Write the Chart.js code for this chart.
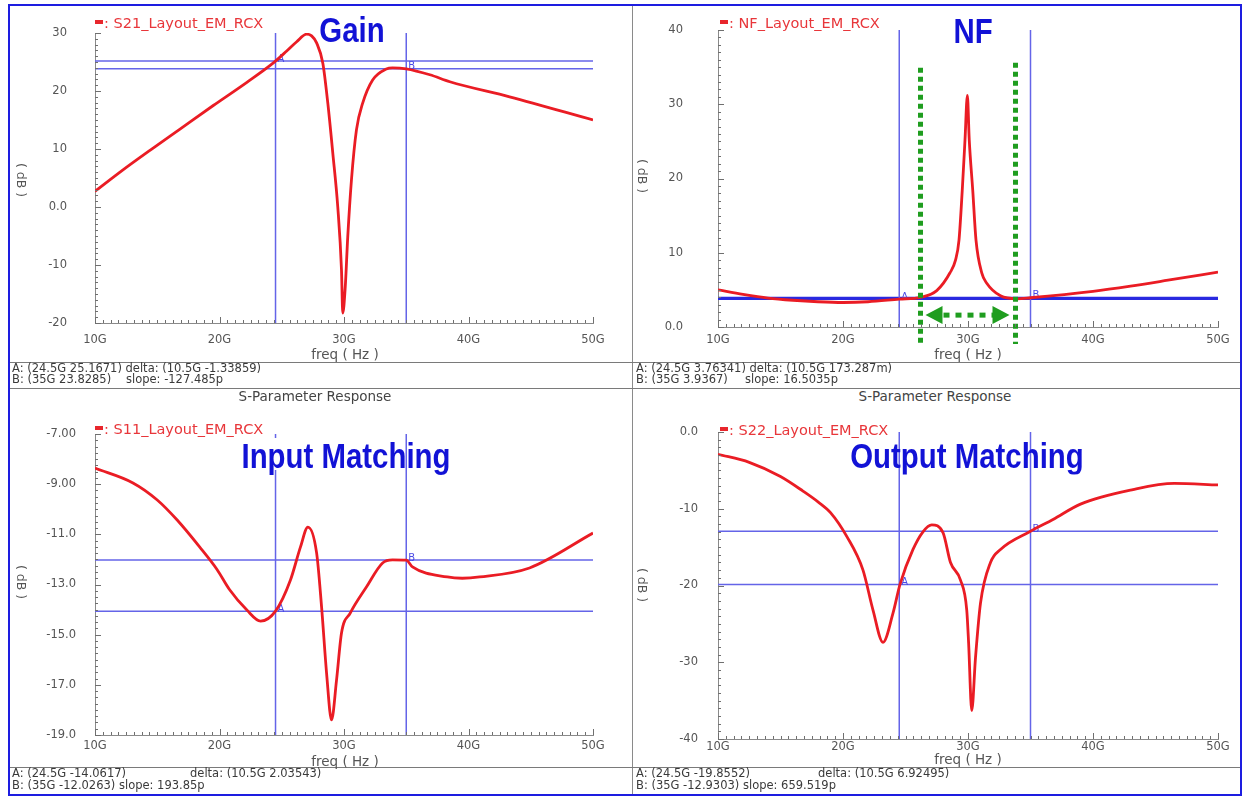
<!DOCTYPE html>
<html>
<head>
<meta charset="utf-8">
<title>S-Parameter Response</title>
<script src="https://cdn.jsdelivr.net/npm/chart.js@4.4.1/dist/chart.umd.min.js"></script>
<style>
  html, body { margin: 0; padding: 0; background: #fff; }
  body { width: 1244px; height: 797px; position: relative; overflow: hidden; font-family: "DejaVu Sans", sans-serif; }
  canvas { position: absolute; }
  .frame { position: absolute; left: 8px; top: 4px; width: 1230px; height: 788px; border: 2px solid #1d1de0; }
  .hline { position: absolute; height: 1px; background: #7a7a7a; }
  .vline { position: absolute; width: 1px; background: #8a8a8a; }
  .txt { position: absolute; white-space: pre; line-height: 1; }
  .info { font-size: 11.5px; color: #3a3a3a; }
  .xtitle { font-size: 13.5px; color: #555; transform: translate(-50%, -50%); }
  .ytitle { font-size: 12.5px; color: #555; transform: translate(-50%, -50%) rotate(90deg); }
  .legend { font-size: 14.5px; color: #e8363a; }
  .legend i { display: inline-block; width: 8px; height: 4px; background: #e8262c; vertical-align: middle; margin-right: 1px; position: relative; top: -2px; }
  .head { font-family: "Liberation Sans", sans-serif; font-weight: bold; font-size: 35px; color: #1212d6; transform: translate(-50%, -50%) scaleX(0.84); z-index: 3; }
  .panelTitle { font-size: 13.5px; color: #444; transform: translate(-50%, -50%); }
  .mask { position: absolute; background: #fff; z-index: 2; }
</style>
</head>
<body>
<div class="frame"></div>

<canvas id="gain" width="620" height="350" style="left:10px;top:8px"></canvas>
<canvas id="nf" width="604" height="350" style="left:634px;top:8px"></canvas>
<canvas id="s11" width="620" height="355" style="left:10px;top:410px"></canvas>
<canvas id="s22" width="604" height="355" style="left:634px;top:410px"></canvas>

<!-- panel separators -->
<div class="vline" style="left:632px;top:6px;height:788px"></div>
<div class="hline" style="left:10px;top:362px;width:1230px"></div>
<div class="hline" style="left:10px;top:388px;width:1230px"></div>
<div class="hline" style="left:10px;top:767px;width:1230px"></div>

<!-- legends -->
<div class="txt legend" style="left:95px;top:16px"><i></i>: S21_Layout_EM_RCX</div>
<div class="txt legend" style="left:720px;top:16px"><i></i>: NF_Layout_EM_RCX</div>
<div class="txt legend" style="left:95px;top:422px"><i></i>: S11_Layout_EM_RCX</div>
<div class="txt legend" style="left:720px;top:423px"><i></i>: S22_Layout_EM_RCX</div>

<!-- headings -->
<div class="mask" style="left:236px;top:438px;width:164px;height:32px"></div>
<div class="txt head" style="left:352px;top:29px">Gain</div>
<div class="txt head" style="left:973px;top:30px">NF</div>
<div class="txt head" style="left:346px;top:455px">Input Matching</div>
<div class="txt head" style="left:967px;top:455px">Output Matching</div>

<!-- axis titles -->
<div class="txt ytitle" style="left:21px;top:180px">( dB )</div>
<div class="txt ytitle" style="left:642px;top:176px">( dB )</div>
<div class="txt ytitle" style="left:21px;top:582px">( dB )</div>
<div class="txt ytitle" style="left:642px;top:585px">( dB )</div>
<div class="txt xtitle" style="left:345px;top:355px">freq ( Hz )</div>
<div class="txt xtitle" style="left:968px;top:355px">freq ( Hz )</div>
<div class="txt xtitle" style="left:345px;top:762px">freq ( Hz )</div>
<div class="txt xtitle" style="left:968px;top:760px">freq ( Hz )</div>

<!-- marker readouts -->
<div class="txt info" style="left:12px;top:363px">A: (24.5G 25.1671) delta: (10.5G -1.33859)</div>
<div class="txt info" style="left:12px;top:374px">B: (35G 23.8285)</div>
<div class="txt info" style="left:126px;top:374px">slope: -127.485p</div>
<div class="txt info" style="left:636px;top:363px">A: (24.5G 3.76341) delta: (10.5G 173.287m)</div>
<div class="txt info" style="left:636px;top:374px">B: (35G 3.9367)</div>
<div class="txt info" style="left:745px;top:374px">slope: 16.5035p</div>
<div class="txt info" style="left:12px;top:768px">A: (24.5G -14.0617)</div>
<div class="txt info" style="left:190px;top:768px">delta: (10.5G 2.03543)</div>
<div class="txt info" style="left:12px;top:780px">B: (35G -12.0263) slope: 193.85p</div>
<div class="txt info" style="left:636px;top:768px">A: (24.5G -19.8552)</div>
<div class="txt info" style="left:818px;top:768px">delta: (10.5G 6.92495)</div>
<div class="txt info" style="left:636px;top:780px">B: (35G -12.9303) slope: 659.519p</div>

<div class="txt panelTitle" style="left:315px;top:397px">S-Parameter Response</div>
<div class="txt panelTitle" style="left:935px;top:397px">S-Parameter Response</div>

<script>
// ---- frequency axis (GHz) ----
const freqTicks = [10, 20, 30, 40, 50];
const freqLabels = ['10G', '20G', '30G', '40G', '50G'];
const markerFreqs = [24.5, 35];            // markers A and B

// ---- S21 gain ----
const gainFreq = [10, 12.25, 14.5, 16.8, 19.5, 22.2, 24.3, 25.4, 26.2, 27.0, 27.4, 27.8, 28.3, 28.7, 29.1, 29.5, 29.8, 29.9, 30.1, 30.3, 30.6, 31.0, 31.5, 32.3, 33.4, 33.9, 35.0, 36.9, 38.5, 43.3, 50];
const gainDb   = [2.7, 6.4, 9.9, 13.4, 17.5, 21.5, 24.8, 26.9, 28.5, 29.8, 29.5, 28.3, 24.8, 17.9, 9.3, 0.0, -10.9, -18.3, -13.8, -5.2, 4.7, 13.3, 17.9, 21.9, 23.8, 24.0, 23.83, 22.8, 21.6, 19.0, 15.0];
const gainMarkers = [25.1671, 23.8285];
const gainTicks = [-20, -10, 0, 10, 20, 30];
const gainLabels = ['-20', '-10', '0.0', '10', '20', '30'];

// ---- noise figure ----
const nfFreq = [10, 12, 14, 16, 18, 20, 22, 24.5, 26.2, 27.5, 28.56, 29.0, 29.28, 29.54, 29.76, 29.95, 30.1, 30.38, 30.64, 31.1, 31.5, 32.6, 33.9, 35, 40, 43, 46, 50];
const nfDb   = [5.0, 4.4, 3.9, 3.6, 3.4, 3.3, 3.4, 3.76, 4.0, 4.9, 7.3, 9.0, 11.7, 18.4, 25.2, 31.2, 25.2, 18.4, 11.7, 7.3, 5.9, 4.2, 3.8, 3.94, 4.8, 5.5, 6.3, 7.4];
const nfMarkers = [3.76341, 3.9367];
const nfTicks = [0, 10, 20, 30, 40];
const nfLabels = ['0.0', '10', '20', '30', '40'];
const nfBandEdges = [26.2, 33.8];          // highlighted low-NF band (GHz)
const nfBandTop = [34.9, 35.6];            // dB where the band guides start
const nfBandBottom = -2.3;
const nfArrowLevel = 1.6;

// ---- S11 input matching ----
const s11Freq = [10, 13.05, 15.0, 16.6, 18.4, 19.8, 20.8, 22.2, 23.3, 24.5, 25.7, 26.5, 27.1, 27.8, 28.2, 28.6, 29.0, 29.4, 29.8, 30.5, 31.8, 33.1, 33.9, 35.0, 35.5, 38.3, 39.5, 40.9, 44.9, 50];
const s11Db   = [-8.36, -8.95, -9.63, -10.43, -11.5, -12.4, -13.2, -14.02, -14.46, -14.06, -12.82, -11.51, -10.71, -11.74, -13.9, -16.53, -18.4, -16.81, -14.93, -14.14, -13.1, -12.14, -12.02, -12.03, -12.3, -12.7, -12.75, -12.7, -12.34, -10.95];
const s11Markers = [-14.0617, -12.0263];
const s11Ticks = [-19, -17, -15, -13, -11, -9, -7];
const s11Labels = ['-19.0', '-17.0', '-15.0', '-13.0', '-11.0', '-9.00', '-7.00'];

// ---- S22 output matching ----
const s22Freq = [10, 12.5, 15.0, 16.8, 18.0, 19.0, 20.3, 21.6, 22.4, 23.2, 24.0, 24.56, 25.6, 26.4, 27.1, 28.0, 28.6, 29.4, 29.9, 30.05, 30.3, 30.6, 31.0, 31.8, 32.6, 35.0, 36.8, 39.0, 43.2, 46.5, 50];
const s22Db   = [-2.9, -3.95, -5.8, -7.7, -9.1, -10.5, -13.6, -18.0, -23.2, -27.4, -23.6, -19.86, -15.3, -13.0, -12.1, -13.1, -17.0, -19.3, -23.2, -27.5, -36.3, -29.4, -22.3, -17.0, -15.3, -12.93, -11.4, -9.4, -7.5, -6.7, -6.9];
const s22Markers = [-19.8552, -12.9303];
const s22Ticks = [-40, -30, -20, -10, 0];
const s22Labels = ['-40', '-30', '-20', '-10', '0.0'];

const RED = '#ea1c24';
const AXIS = '#8a8a8a';
const TICK_TEXT = '#555';
const MARK = '#6464e8';

// inward-pointing major/minor ticks on the left and bottom axes
const axisTicksPlugin = {
  id: 'axisTicks',
  afterDraw(chart) {
    const { ctx, chartArea: a, scales: { x, y } } = chart;
    const o = chart.options.plugins.axisTicks;
    ctx.save();
    ctx.strokeStyle = '#6f6f6f';
    ctx.lineWidth = 1;
    ctx.beginPath();
    for (let v = x.min; v <= x.max + 1e-9; v += o.xMinor) {
      const px = Math.round(x.getPixelForValue(v)) + 0.5;
      const major = Math.abs(v / 10 - Math.round(v / 10)) < 1e-6;
      ctx.moveTo(px, a.bottom);
      ctx.lineTo(px, a.bottom - (major ? 6 : 3));
    }
    for (let v = y.min; v <= y.max + 1e-9; v += o.yMinor) {
      const py = Math.round(y.getPixelForValue(v)) + 0.5;
      const major = o.yMajor.some(t => Math.abs(t - v) < 1e-6);
      ctx.moveTo(a.left, py);
      ctx.lineTo(a.left + (major ? 6 : 3), py);
    }
    ctx.stroke();
    ctx.restore();
  }
};

// A/B marker cross-hairs with their letters
const markerPlugin = {
  id: 'abMarkers',
  beforeDatasetsDraw(chart) {
    const { ctx, chartArea: a, scales: { x, y } } = chart;
    const o = chart.options.plugins.abMarkers;
    ctx.save();
    ctx.strokeStyle = o.hColor || MARK;
    ctx.lineWidth = o.hWidth || 1.5;
    o.levels.forEach(v => {
      const py = y.getPixelForValue(v);
      ctx.beginPath(); ctx.moveTo(a.left, py); ctx.lineTo(a.right, py); ctx.stroke();
    });
    ctx.strokeStyle = MARK;
    ctx.lineWidth = 1.5;
    markerFreqs.forEach(f => {
      const px = x.getPixelForValue(f);
      ctx.beginPath(); ctx.moveTo(px, a.top); ctx.lineTo(px, a.bottom); ctx.stroke();
    });
    ctx.fillStyle = '#4a4ae6';
    ctx.font = '10px "DejaVu Sans"';
    ctx.textBaseline = 'bottom';
    ['A', 'B'].forEach((t, i) => {
      ctx.fillText(t, x.getPixelForValue(markerFreqs[i]) + 2, y.getPixelForValue(o.levels[i]) + 3);
    });
    ctx.restore();
  }
};

// green band guides and double arrow on the noise-figure plot
const nfBandPlugin = {
  id: 'nfBand',
  afterDatasetsDraw(chart) {
    const { ctx, scales: { x, y } } = chart;
    const green = '#1f9d1f';
    ctx.save();
    ctx.strokeStyle = green;
    ctx.fillStyle = green;
    ctx.lineWidth = 5;
    ctx.setLineDash([5, 4]);
    nfBandEdges.forEach((f, i) => {
      const px = x.getPixelForValue(f);
      ctx.beginPath();
      ctx.moveTo(px, y.getPixelForValue(nfBandTop[i]));
      ctx.lineTo(px, y.getPixelForValue(nfBandBottom));
      ctx.stroke();
    });
    const ay = y.getPixelForValue(nfArrowLevel);
    const x0 = x.getPixelForValue(nfBandEdges[0]) + 5;
    const x1 = x.getPixelForValue(nfBandEdges[1]) - 6;
    ctx.setLineDash([6, 6]);
    ctx.beginPath();
    ctx.moveTo(x0 + 18, ay); ctx.lineTo(x1 - 16, ay);
    ctx.stroke();
    ctx.setLineDash([]);
    ctx.beginPath();
    ctx.moveTo(x0, ay); ctx.lineTo(x0 + 17, ay - 9); ctx.lineTo(x0 + 17, ay + 9); ctx.closePath();
    ctx.moveTo(x1, ay); ctx.lineTo(x1 - 17, ay - 9); ctx.lineTo(x1 - 17, ay + 9); ctx.closePath();
    ctx.fill();
    ctx.restore();
  }
};

// fixed scale box sizes, without the tick-padding overhang Chart.js adds by default
function fixBox(size, key) {
  return s => {
    s[key] = size;
    s.paddingTop = 0; s.paddingBottom = 0; s.paddingLeft = 0; s.paddingRight = 0;
  };
}

function makePanel(id, p) {
  return new Chart(document.getElementById(id), {
    type: 'line',
    data: {
      datasets: [{
        label: p.label,
        data: p.freq.map((f, i) => ({ x: f, y: p.db[i] })),
        borderColor: RED,
        borderWidth: 2.8,
        pointRadius: 0,
        fill: false,
        cubicInterpolationMode: 'monotone'
      }]
    },
    options: {
      responsive: false,
      animation: false,
      events: [],
      layout: { padding: p.pad, autoPadding: false },
      plugins: {
        legend: { display: false },
        tooltip: { enabled: false },
        axisTicks: { xMinor: 0.625, yMinor: p.yMinor, yMajor: p.yTicks },
        abMarkers: { levels: p.markers, hColor: p.hColor, hWidth: p.hWidth }
      },
      scales: {
        x: {
          type: 'linear', min: 10, max: 50,
          afterBuildTicks: s => { s.ticks = freqTicks.map(v => ({ value: v })); },
          afterFit: fixBox(p.xH, 'height'),
          ticks: {
            callback: v => freqLabels[freqTicks.indexOf(v)],
            padding: p.xPad, color: TICK_TEXT, maxRotation: 0, autoSkip: false,
            font: { family: 'DejaVu Sans', size: 11.5 }
          },
          grid: { display: false, drawTicks: false },
          border: { display: true, color: AXIS, width: 1 }
        },
        y: {
          type: 'linear', min: p.yTicks[0], max: p.yTicks[p.yTicks.length - 1],
          afterBuildTicks: s => { s.ticks = p.yTicks.map(v => ({ value: v })); },
          afterFit: fixBox(p.yW, 'width'),
          ticks: {
            callback: v => p.yLabels[p.yTicks.indexOf(v)],
            padding: p.yPad, color: TICK_TEXT, autoSkip: false,
            font: { family: 'DejaVu Sans', size: 11.5 }
          },
          grid: { display: false, drawTicks: false },
          border: { display: true, color: AXIS, width: 1 }
        }
      }
    },
    plugins: [axisTicksPlugin, markerPlugin].concat(p.extra || [])
  });
}

makePanel('gain', {
  label: 'S21_Layout_EM_RCX', freq: gainFreq, db: gainDb, markers: gainMarkers,
  yTicks: gainTicks, yLabels: gainLabels, yMinor: 1,
  pad: { left: 0, top: 25, right: 37, bottom: 0 }, yW: 85, xH: 35, xPad: 10, yPad: 28
});
makePanel('nf', {
  label: 'NF_Layout_EM_RCX', freq: nfFreq, db: nfDb, markers: nfMarkers,
  yTicks: nfTicks, yLabels: nfLabels, yMinor: 1,
  hColor: '#2a2ae0', hWidth: 2,
  pad: { left: 0, top: 22, right: 20, bottom: 0 }, yW: 84, xH: 31, xPad: 6, yPad: 35,
  extra: [nfBandPlugin]
});
makePanel('s11', {
  label: 'S11_Layout_EM_RCX', freq: s11Freq, db: s11Db, markers: s11Markers,
  yTicks: s11Ticks, yLabels: s11Labels, yMinor: 0.25,
  pad: { left: 0, top: 24, right: 37, bottom: 0 }, yW: 85, xH: 30, xPad: 4, yPad: 19
});
makePanel('s22', {
  label: 'S22_Layout_EM_RCX', freq: s22Freq, db: s22Db, markers: s22Markers,
  yTicks: s22Ticks, yLabels: s22Labels, yMinor: 1,
  pad: { left: 0, top: 22, right: 20, bottom: 0 }, yW: 84, xH: 26, xPad: 1, yPad: 20
});
</script>
</body>
</html>
